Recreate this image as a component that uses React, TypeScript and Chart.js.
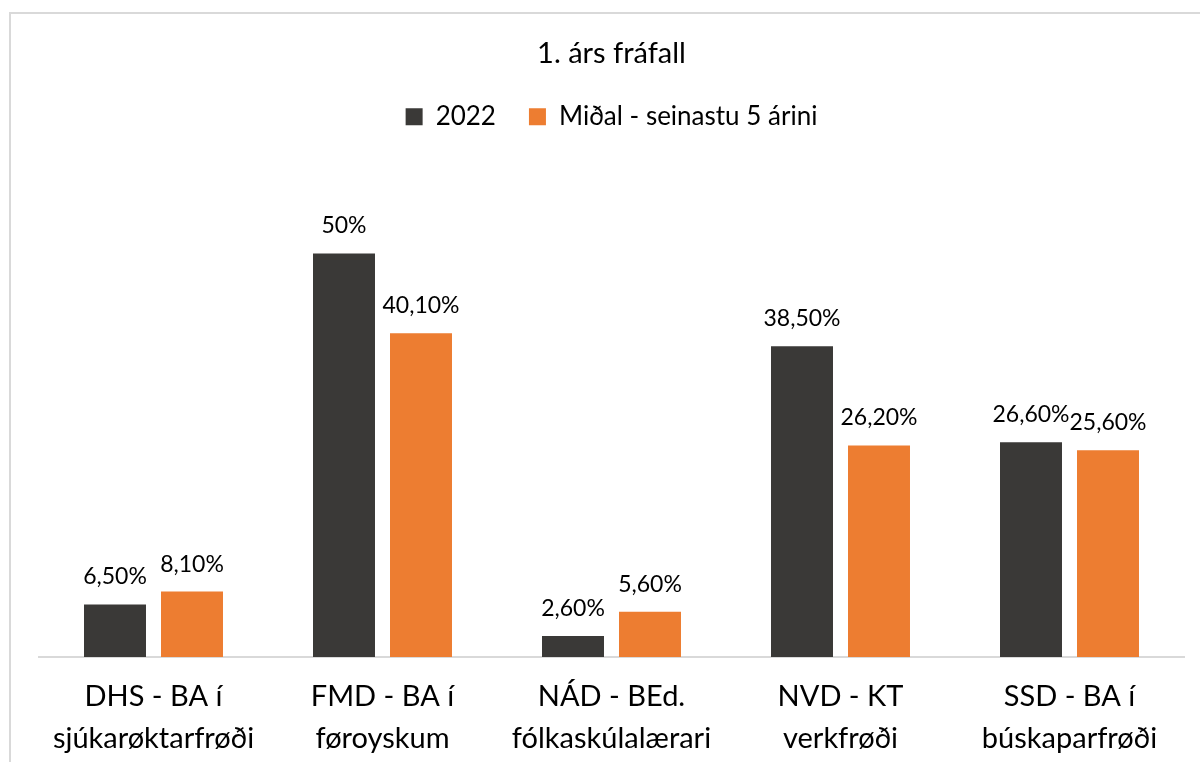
import React, { useEffect, useRef } from 'react';
import { Chart, registerables } from 'chart.js';

Chart.register(...registerables);

const titleText = '1. árs fráfall';
const seriesNames = ['2022', 'Miðal - seinastu 5 árini'];
const categories = [
  ['DHS - BA í', 'sjúkarøktarfrøði'],
  ['FMD - BA í', 'føroyskum'],
  ['NÁD - BEd.', 'fólkaskúlalærari'],
  ['NVD - KT', 'verkfrøði'],
  ['SSD - BA í', 'búskaparfrøði'],
];
const values2022 = [6.5, 50, 2.6, 38.5, 26.6];
const valuesAvg = [8.1, 40.1, 5.6, 26.2, 25.6];
const labels2022 = ['6,50%', '50%', '2,60%', '38,50%', '26,60%'];
const labelsAvg = ['8,10%', '40,10%', '5,60%', '26,20%', '25,60%'];

const FONT = 'Lato';

const dataLabelPlugin = {
  id: 'barValueLabels',
  afterDatasetsDraw(chart: any) {
    const ctx = chart.ctx;
    ctx.save();
    ctx.font = `23px ${FONT}`;
    ctx.fillStyle = '#000';
    ctx.textAlign = 'center';
    ctx.textBaseline = 'alphabetic';
    chart.data.datasets.forEach((_ds: any, di: number) => {
      const meta = chart.getDatasetMeta(di);
      const texts = di === 0 ? labels2022 : labelsAvg;
      meta.data.forEach((bar: any, i: number) => {
        ctx.fillText(texts[i], bar.x, bar.y - 20);
      });
    });
    ctx.restore();
  },
};

export default function App() {
  const canvasRef = useRef<HTMLCanvasElement | null>(null);

  useEffect(() => {
    if (!canvasRef.current) return;
    const chart = new Chart(canvasRef.current, {
      type: 'bar',
      data: {
        labels: categories,
        datasets: [
          {
            label: seriesNames[0],
            data: values2022,
            backgroundColor: '#3a3937',
            borderWidth: 0,
          },
          {
            label: seriesNames[1],
            data: valuesAvg,
            backgroundColor: '#ed7d31',
            borderWidth: 0,
          },
        ],
      },
      options: {
        responsive: false,
        animation: false,
        maintainAspectRatio: false,
        datasets: {
          bar: { categoryPercentage: 0.6725, barPercentage: 0.805 },
        },
        layout: { padding: { left: 39, right: 16, top: 0, bottom: 0 } },
        plugins: {
          title: {
            display: true,
            text: titleText,
            color: '#000',
            font: { family: FONT, size: 29, weight: 'normal' },
            padding: { top: 36, bottom: 0 },
          },
          legend: {
            display: true,
            position: 'top',
            labels: {
              color: '#000',
              font: { family: FONT, size: 26 },
              boxWidth: 17,
              boxHeight: 17,
              padding: 33,
            },
          },
          tooltip: { enabled: false },
        },
        scales: {
          x: {
            grid: { display: false },
            border: { display: true, color: '#d9d9d9', width: 2 },
            ticks: {
              color: '#000',
              font: { family: FONT, size: 29, lineHeight: 1.45 },
              padding: 11,
              maxRotation: 0,
              autoSkip: false,
            },
          },
          y: {
            display: false,
            min: 0,
            max: 64.08,
          },
        },
      },
      plugins: [dataLabelPlugin],
    });
    return () => chart.destroy();
  }, []);

  return (
    <div style={{ position: 'fixed', left: 0, top: 0, width: 1200, height: 762, background: '#fff', overflow: 'hidden' }}>
      <div
        style={{
          position: 'absolute',
          left: 9,
          top: 12,
          width: 1300,
          height: 900,
          border: '2px solid #d9d9d9',
          boxSizing: 'border-box',
        }}
      />
      <canvas
        ref={canvasRef}
        width={1200}
        height={771}
        style={{ position: 'absolute', left: 0, top: 0, width: 1200, height: 771 }}
      />
    </div>
  );
}
